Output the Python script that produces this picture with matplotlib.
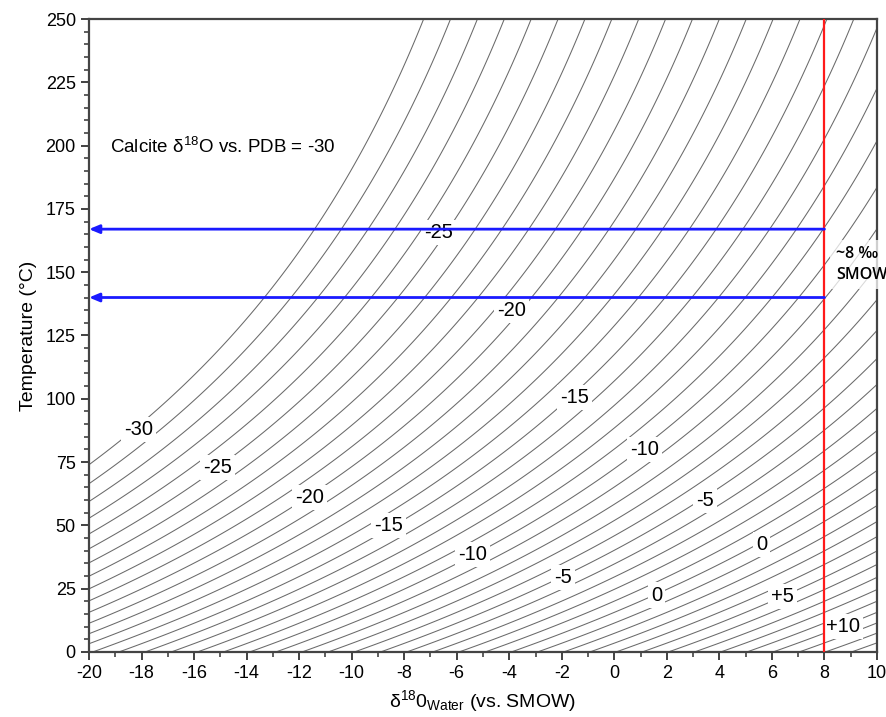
import numpy as np
import matplotlib
matplotlib.use("Agg")
import matplotlib.pyplot as plt
from matplotlib.ticker import MultipleLocator

# ---- data ----
# calcite-water fractionation: 1000 ln(alpha) = A*1e6/T^2 + B  (T in K)
frac_A = 2.78
frac_B = -2.89
smow_pdb_a = 1.03091
smow_pdb_b = 30.91
contour_levels = list(range(-30, 15))          # calcite d18O (PDB), every 1 permil
x_range = [-20, 10]                            # d18O water (SMOW)
y_range = [0, 250]                             # temperature (C)

label_texts = ["-30", "-25", "-20", "-15", "-10", "-5", "0", "+5", "+10",
               "-25", "-20", "-15", "-10", "-5", "0"]
label_x = [-18.1, -15.1, -11.6, -8.6, -5.4, -1.95, 1.6, 6.4, 8.7,
           -6.7, -3.9, -1.5, 1.15, 3.45, 5.6]
label_y = [88, 73, 61, 50, 38.5, 29.5, 22.5, 22, 10,
           165.5, 135, 100.5, 80, 60, 42.3]

arrow_temps = [167, 140]
smow_line_x = 8
x_ticks = list(range(-20, 11, 2))
y_ticks = list(range(0, 251, 25))

# ---- field ----
xw = np.linspace(x_range[0], x_range[1], 400)
tc = np.linspace(y_range[0], y_range[1], 400)
X, Y = np.meshgrid(xw, tc)
alpha = np.exp((frac_A * 1e6 / (Y + 273.15) ** 2 + frac_B) / 1000.0)
calc_smow = alpha * (1000.0 + X) - 1000.0
Z = (calc_smow - smow_pdb_b) / smow_pdb_a

plt.rcParams['font.family'] = ['Liberation Sans', 'DejaVu Sans']
plt.rcParams['mathtext.default'] = 'regular'
plt.rcParams['axes.unicode_minus'] = False

fig = plt.figure(figsize=(8.87, 7.17), dpi=100)
ax = fig.add_axes([0.1003, 0.0907, 0.8884, 0.8828])

ax.contour(X, Y, Z, levels=contour_levels, colors='#6a6a6a', linewidths=0.75,
           linestyles='solid', zorder=2)

for t, x, y in zip(label_texts, label_x, label_y):
    ax.text(x, y, t, fontsize=14.5, ha='center', va='center', zorder=4,
            bbox=dict(boxstyle='square,pad=0.15', fc='white', ec='none'))

ax.axvline(smow_line_x, color='#ff1a1a', lw=1.6, zorder=5)

for t in arrow_temps:
    ax.annotate('', xy=(x_range[0], t), xytext=(smow_line_x, t),
                arrowprops=dict(arrowstyle='-|>,head_length=0.6,head_width=0.25',
                                color='#1a1aff', lw=2, shrinkA=0, shrinkB=0),
                zorder=6, annotation_clip=False)

ax.text(-19.2, 199.5, 'Calcite δ$^{18}$O vs. PDB = -30', fontsize=13.5,
        ha='left', va='center', zorder=4)

ax.text(8.45, 153.0, '~8 ‰\nSMOW', fontsize=11.5, fontweight='semibold',
        family=['Open Sans', 'DejaVu Sans'], ha='left', va='center',
        linespacing=1.35, zorder=7, clip_on=False,
        bbox=dict(boxstyle='square,pad=0.4', fc='white', ec='none', alpha=0.75))

ax.set_xlim(*x_range)
ax.set_ylim(*y_range)
ax.set_xticks(x_ticks)
ax.set_yticks(y_ticks)
ax.xaxis.set_minor_locator(MultipleLocator(1))
ax.yaxis.set_minor_locator(MultipleLocator(5))
ax.tick_params(axis='both', which='major', direction='out', length=6, width=1.3,
               labelsize=13, colors='#333333', labelcolor='black')
ax.tick_params(axis='both', which='minor', direction='out', length=3.5, width=1.1,
               colors='#333333')
for s in ax.spines.values():
    s.set_linewidth(1.6)
    s.set_color('#444444')

ax.set_xlabel('δ$^{18}$0$_{Water}$ (vs. SMOW)', fontsize=14, labelpad=4)
ax.set_ylabel('Temperature (°C)', fontsize=14, labelpad=6)

fig.savefig('out.png', dpi=100)
